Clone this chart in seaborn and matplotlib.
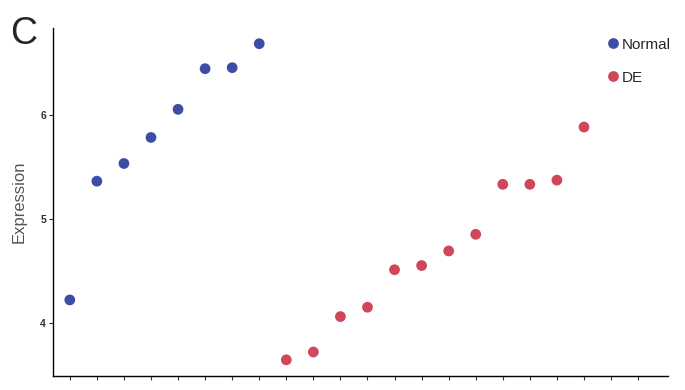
import seaborn as sns
import matplotlib.pyplot as plt
import pandas as pd

# ---- data ----
group_labels = ["Normal", "DE"]
blue_values = [4.22, 5.36, 5.53, 5.78, 6.05, 6.44, 6.45, 6.68]
red_values = [3.645, 3.72, 4.06, 4.15, 4.51, 4.55, 4.69, 4.85, 5.33, 5.33, 5.37, 5.88]
y_ticks = [4, 5, 6]
n_xticks = 22

values = blue_values + red_values
groups = [group_labels[0]] * len(blue_values) + [group_labels[1]] * len(red_values)
rank = list(range(1, len(values) + 1))
df = pd.DataFrame({"rank": rank, "value": values, "group": groups})

sns.set_style("ticks")
plt.rcParams['font.family'] = ['Liberation Sans', 'DejaVu Sans']

fig = plt.figure(figsize=(6.85, 3.90), dpi=100)
ax = fig.add_axes([0.0774, 0.036, 0.8976, 0.892])

palette = {group_labels[0]: "#3D4DA6", group_labels[1]: "#D0465A"}
sns.scatterplot(data=df, x="rank", y="value", hue="group", palette=palette,
                s=60, edgecolor="none", ax=ax, legend=True)

ax.set_xlim(0.38, 23.1)
ax.set_ylim(3.49, 6.83)
ax.set_yticks(y_ticks)
ax.set_yticklabels([str(t) for t in y_ticks], fontsize=7.5, color="#333333", fontweight="bold")
ax.set_xticks(list(range(1, n_xticks + 1)))
ax.set_xticklabels([""] * n_xticks)
ax.tick_params(axis="both", length=3, width=0.8, color="#333333", pad=2)
ax.set_xlabel("")
ax.set_ylabel("Expression", fontsize=12, color="#555555", labelpad=10)

for side in ["top", "right"]:
    ax.spines[side].set_visible(False)
for side in ["left", "bottom"]:
    ax.spines[side].set_color("black")
    ax.spines[side].set_linewidth(1.0)

leg = ax.legend(loc="upper left", bbox_to_anchor=(0.888, 0.99), frameon=False,
                fontsize=11, handletextpad=0.1, labelspacing=1.25, borderaxespad=0,
                handlelength=1.0, markerscale=1.0)

fig.text(0.015, 0.958, "C", fontsize=27, va="top", ha="left")

fig.savefig("out.png", dpi=100)
